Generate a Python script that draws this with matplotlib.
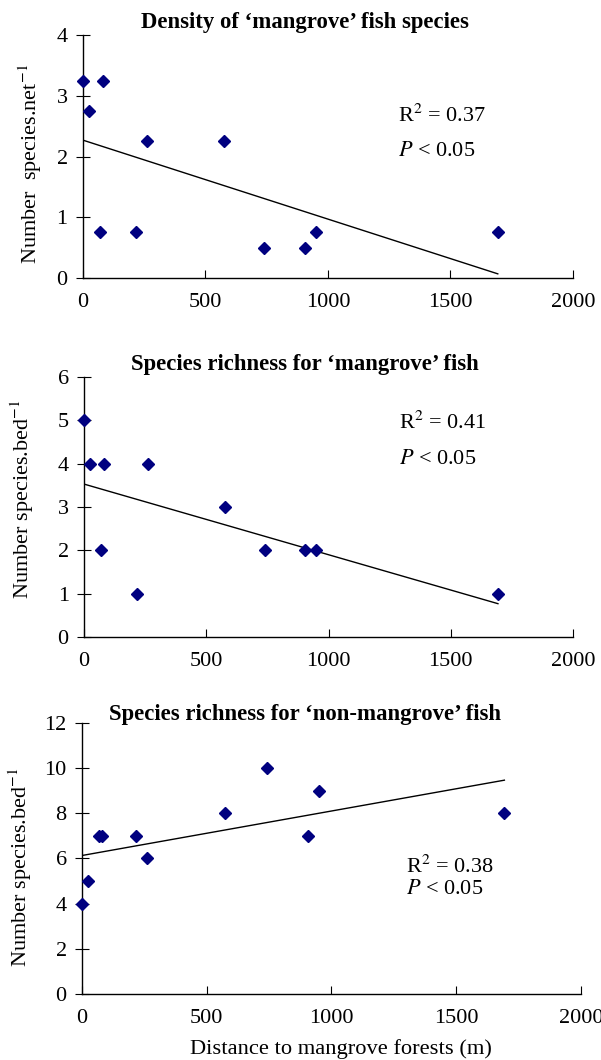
import numpy as np
import matplotlib
matplotlib.use("Agg")
import matplotlib.pyplot as plt

plt.rcParams['font.family'] = ['Liberation Serif', 'DejaVu Serif']
plt.rcParams['mathtext.fontset'] = 'stix'

# distance of each seagrass bed to mangrove forests (m)
distance = [0, 25, 80, 70, 215, 260, 575, 740, 905, 950, 1693]

# panel values
density_mangrove = [3.25, 2.75, 3.25, 0.75, 0.75, 2.25, 2.25, 0.5, 0.5, 0.75, 0.75]
richness_mangrove = [5, 4, 4, 2, 1, 4, 3, 2, 2, 2, 1]
richness_non_mangrove = [4, 5, 7, 7, 7, 6, 8, 10, 7, 9, 8]

# regression lines (intercept, slope)
fit_intercept = [2.27, 3.53, 6.13]
fit_slope = [-0.00130, -0.00163, 0.00197]
fit_xmax = 1693

titles = ["Density of \u2018mangrove\u2019 fish species",
          "Species richness for \u2018mangrove\u2019 fish",
          "Species richness for \u2018non-mangrove\u2019 fish"]
ylabels = ["Number  species.net$^{-1}$",
           "Number species.bed$^{-1}$",
           "Number species.bed$^{-1}$"]
stats_text = ["R$^2$ = 0.37", "R$^2$ = 0.41", "R$^2$ = 0.38"]
ylims = [4, 6, 12]
ysteps = [1, 1, 2]
stats_pos = [(1286, 2.68, 2.09), (1290, 4.95, 4.09), (1300, 5.65, 4.61)]

positions = [[0.1381, 0.7377, 0.8153, 0.2292],
             [0.1398, 0.3990, 0.8136, 0.2453],
             [0.1364, 0.0623, 0.8303, 0.2557]]
title_y = [0.979, 0.6558, 0.3255]
ylabel_xy = [(-0.080, 0.469), (-0.098, 0.53), (-0.096, 0.467)]

fig = plt.figure(figsize=(6.01, 10.60), dpi=100)
data = [density_mangrove, richness_mangrove, richness_non_mangrove]

for i in range(3):
    ax = fig.add_axes(positions[i])
    ax.plot(distance, data[i], 'D', color='#000080', markersize=5.7, zorder=3, clip_on=False)
    xs = np.array([0, fit_xmax])
    ax.plot(xs, fit_intercept[i] + fit_slope[i] * xs, color='black', lw=1)
    ax.set_xlim(0, 2000)
    ax.set_ylim(0, ylims[i])
    ax.set_xticks(np.arange(0, 2001, 500))
    ax.set_yticks(np.arange(0, ylims[i] + 1, ysteps[i]))
    ax.spines['top'].set_visible(False)
    ax.spines['right'].set_visible(False)
    for s in ['left', 'bottom']:
        ax.spines[s].set_linewidth(1)
    ax.tick_params(axis='x', direction='in', length=6, labelsize=16, pad=11)
    ax.tick_params(axis='y', direction='inout', length=10, labelsize=16, pad=6)
    fig.text(0.5075, title_y[i], titles[i], fontsize=16.4, fontweight='bold',
             ha='center', va='center')
    ax.set_ylabel(ylabels[i], fontsize=16)
    ax.yaxis.set_label_coords(*ylabel_xy[i])
    sx, ry, py = stats_pos[i]
    ax.text(sx, ry, stats_text[i], fontsize=16, va='center')
    ax.text(sx, py, "$P$ < 0.05", fontsize=16, va='center')

fig.text(0.568, 0.0105, "Distance to mangrove forests (m)", fontsize=16.2,
         ha='center', va='center')

fig.savefig("out.png", dpi=100)
